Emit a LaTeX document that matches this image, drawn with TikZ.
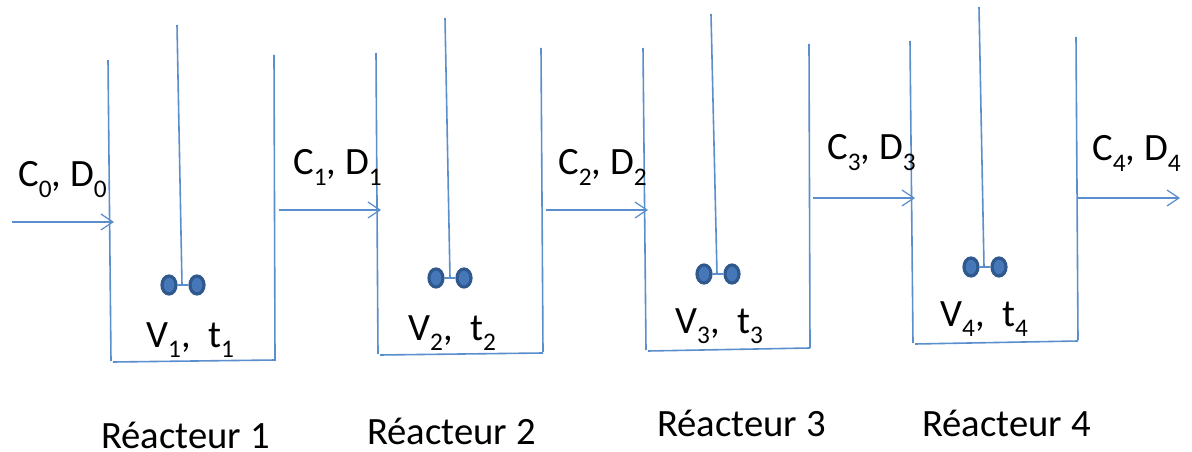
\documentclass[tikz,border=0pt]{standalone}
\usepackage{fontspec}
\setmainfont{Carlito}
\usetikzlibrary{arrows.meta,shapes.geometric}
\definecolor{linecol}{RGB}{91,142,204}
\definecolor{discedge}{RGB}{47,88,140}
\definecolor{discfill}{RGB}{70,120,185}
\newcommand{\lowsub}[1]{\raisebox{-0.26em}{\fontsize{19}{22}\selectfont #1}}
\tikzset{
  x=0.75pt,y=-0.75pt,
  wall/.style={draw=linecol,line width=1.2pt},
  flow/.style={wall,-{Straight Barb[length=9pt,width=12pt,line width=0.9pt]}},
  disc/.style={ellipse,draw=discedge,fill=discfill,line width=2.4pt,minimum width=10.5pt,minimum height=13.5pt,inner sep=0pt},
  lbl/.style={inner sep=0pt,text=black,font=\fontsize{29}{34}\selectfont,anchor=base west},
}
\begin{document}
\begin{tikzpicture}
\useasboundingbox (0,0) rectangle (1192,452);
% reactor 1
\coordinate (tl1) at (108,60); \coordinate (bl1) at (111,361); \coordinate (bls1) at (113,362);
\coordinate (brs1) at (276,360); \coordinate (tr1) at (274,55); \coordinate (br1) at (275,360);
\coordinate (st1) at (177,25); \coordinate (sb1) at (182,285);
\node[disc] (da1) at (169,285) {}; \node[disc] (db1) at (197,285) {};
% reactor 2
\coordinate (tl2) at (376,53); \coordinate (bl2) at (378,354); \coordinate (bls2) at (380,355);
\coordinate (brs2) at (543,353); \coordinate (tr2) at (541,48); \coordinate (br2) at (543,352);
\coordinate (st2) at (445,18); \coordinate (sb2) at (450,278);
\node[disc] (da2) at (436,278) {}; \node[disc] (db2) at (464,278) {};
% reactor 3
\coordinate (tl3) at (643,48); \coordinate (bl3) at (646,350); \coordinate (bls3) at (648,351);
\coordinate (brs3) at (810,348); \coordinate (tr3) at (809,44); \coordinate (br3) at (810,348);
\coordinate (st3) at (711,14); \coordinate (sb3) at (717,274);
\node[disc] (da3) at (704,274) {}; \node[disc] (db3) at (732,274) {};
% reactor 4
\coordinate (tl4) at (910,41); \coordinate (bl4) at (913,343); \coordinate (bls4) at (915,344);
\coordinate (brs4) at (1078,341); \coordinate (tr4) at (1076,37); \coordinate (br4) at (1078,340);
\coordinate (st4) at (979,7); \coordinate (sb4) at (984,267);
\node[disc] (da4) at (971,267) {}; \node[disc] (db4) at (999,267) {};
\foreach \i in {1,2,3,4}{
  \draw[wall] (tl\i) -- (bl\i);
  \draw[wall] (bls\i) -- (brs\i);
  \draw[wall] (tr\i) -- (br\i);
  \draw[wall] (st\i) -- (sb\i);
  \draw[wall] (da\i) -- (db\i);
}
% flows
\coordinate (f0a) at (12,222); \coordinate (f0b) at (114,222);
\coordinate (f1a) at (279,210); \coordinate (f1b) at (381,210);
\coordinate (f2a) at (546,210); \coordinate (f2b) at (648,210);
\coordinate (f3a) at (813,198); \coordinate (f3b) at (915,198);
\coordinate (f4a) at (1077,198); \coordinate (f4b) at (1180,198);
\foreach \i in {0,...,4}{ \draw[flow] (f\i a) -- (f\i b); }
% labels
\node[lbl] (c0) at (18,187) {C\lowsub{0}, D\lowsub{0}};
\node[lbl] (c1) at (293,175) {C\lowsub{1}, D\lowsub{1}};
\node[lbl] (c2) at (558,175) {C\lowsub{2}, D\lowsub{2}};
\node[lbl] (c3) at (827,160) {C\lowsub{3}, D\lowsub{3}};
\node[lbl] (c4) at (1092,161) {C\lowsub{4}, D\lowsub{4}};
\node[lbl] (v1) at (146,347) {V\lowsub{1},\ \ t\lowsub{1}};
\node[lbl] (v2) at (408,340) {V\lowsub{2},\ \ t\lowsub{2}};
\node[lbl] (v3) at (675,333) {V\lowsub{3},\ \ t\lowsub{3}};
\node[lbl] (v4) at (940,326) {V\lowsub{4},\ \ t\lowsub{4}};
\node[lbl] (r1) at (101,448) {Réacteur 1};
\node[lbl] (r2) at (367,444) {Réacteur 2};
\node[lbl] (r3) at (657,436) {Réacteur 3};
\node[lbl] (r4) at (922,436) {Réacteur 4};
\end{tikzpicture}
\end{document}
